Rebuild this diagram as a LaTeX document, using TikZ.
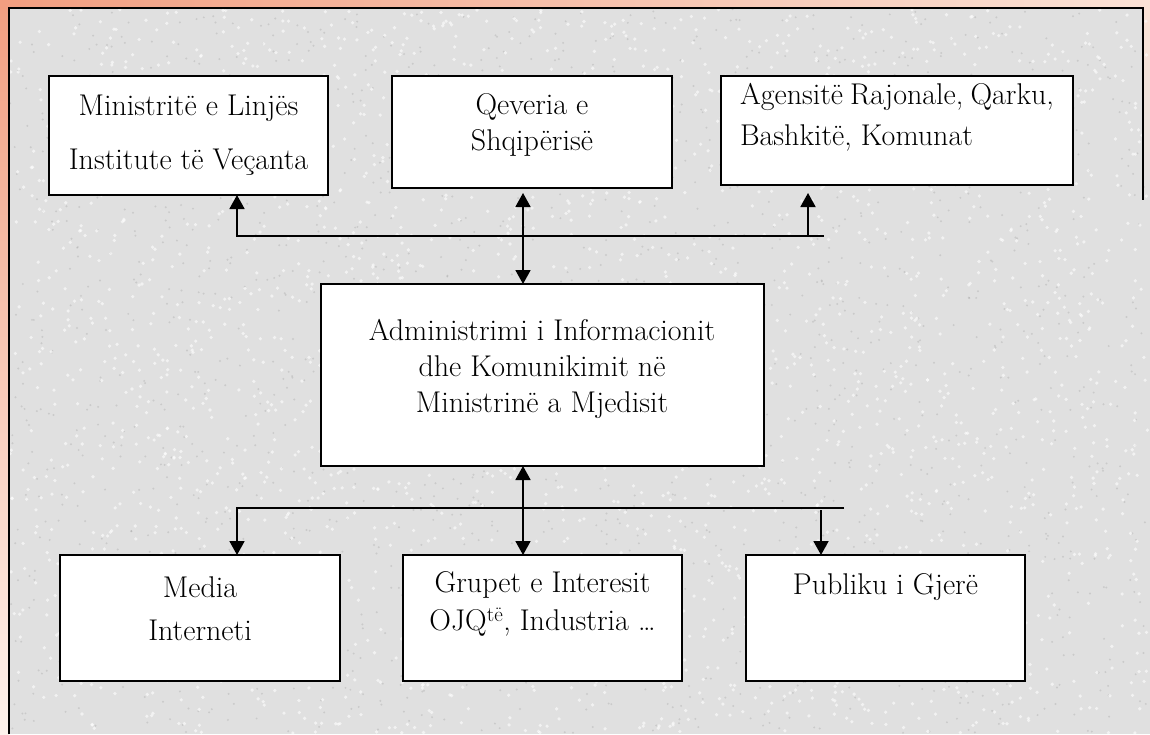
\documentclass[tikz,border=0pt]{standalone}
\usetikzlibrary{arrows.meta,calc}
\definecolor{bggray}{RGB}{224,224,224}
\definecolor{salmon}{RGB}{242,158,128}
\definecolor{peachlight}{RGB}{251,226,214}
\definecolor{peachpale}{RGB}{253,242,236}
\tikzset{
  boxnode/.style={draw=black, fill=white, line width=1.6pt, rectangle, inner sep=0pt, outer sep=0pt},
  txt/.style={font=\fontsize{30}{36}\selectfont, align=center, inner sep=0pt},
  conn/.style={line width=1.8pt, draw=black},
  arr/.style={conn, -{Triangle[length=14pt,width=15pt]}},
  darr/.style={conn, {Triangle[length=14pt,width=15pt]}-{Triangle[length=14pt,width=15pt]}},
  speckdark/.style={fill=gray!80, opacity=0.30},
  specklight/.style={fill=white, opacity=0.6}
}
\begin{document}
\begin{tikzpicture}[x=1pt,y=-1pt]
\useasboundingbox (0,0) rectangle (1150,734);
% frame and background
\shade[top color=salmon, bottom color=peachpale] (0,0) rectangle (9,734);
\shade[left color=salmon, right color=peachlight] (0,0) rectangle (1150,8);
\fill[bggray] (9,8) rectangle (1150,734);
\shade[top color=peachlight, bottom color=bggray] (1143,8) rectangle (1150,200);
% texture
\pgfmathsetseed{7}
\foreach \i in {1,...,1800}{
  \pgfmathsetmacro\xx{10+rnd*1138}
  \pgfmathsetmacro\yy{9+rnd*724}
  \fill[speckdark] (\xx,\yy) circle (1.1pt);
}
\foreach \i in {1,...,2600}{
  \pgfmathsetmacro\xx{10+rnd*1138}
  \pgfmathsetmacro\yy{9+rnd*724}
  \fill[specklight] (\xx,\yy) circle (1.8pt);
}
\draw[black, line width=1.6pt] (9,734) -- (9,8) -- (1143,8) -- (1143,200);

% boxes
\node[boxnode, minimum width=279pt, minimum height=119pt] (b1) at (188.5,135.5) {};
\node[boxnode, minimum width=280pt, minimum height=112pt] (b2) at (532,132) {};
\node[boxnode, minimum width=352pt, minimum height=109pt] (b3) at (897,130.5) {};
\node[boxnode, minimum width=443pt, minimum height=182pt] (cb) at (542.5,375) {};
\node[boxnode, minimum width=280pt, minimum height=126pt] (m) at (200,618) {};
\node[boxnode, minimum width=279pt, minimum height=126pt] (g) at (542.5,618) {};
\node[boxnode, minimum width=279pt, minimum height=126pt] (p) at (885.5,618) {};

% texts
\node[txt] (t1) at (188.5,135) {Ministritë e Linjës\\[18pt]Institute të Veçanta};
\node[txt] (t2) at (532,125) {Qeveria e\\Shqipërisë};
\node[txt, font=\fontsize{30}{41}\selectfont, text width=314pt, align=justify] (t3) at (897,117.5)
  {Agensitë Rajonale, Qarku,\linebreak Bashkitë, Komunat};
\node[txt] (tc) at (542,368.5) {Administrimi i Informacionit\\dhe Komunikimit në\\Ministrinë a Mjedisit};
\node[txt] (tm) at (200,608.5) {Media\\[7pt]Interneti};
\node[txt] (tg) at (542.5,604) {Grupet e Interesit\\[2pt]OJQ\textsuperscript{të}, Industria \ldots};
\node[txt] (tp) at (885.5,587) {Publiku i Gjerë};

% upper connectors
\coordinate (tbL) at (237,236);
\coordinate (tbR) at (824,236);
\draw[arr] (tbR) -- (tbL) -- (tbL |- b1.south);
\coordinate (t3s) at (808,236);
\coordinate (t3tip) at (808,193);
\draw[arr] (t3s) -- (t3tip);
\coordinate (c2tip) at (523,193);
\draw[darr] (c2tip) -- (c2tip |- cb.north);

% lower connectors
\coordinate (lx) at (523,500);
\draw[darr] (lx |- cb.south) -- (lx |- g.north);
\coordinate (lbL) at (237,508);
\coordinate (lbR) at (844,508);
\draw[arr] (lbR) -- (lbL) -- (lbL |- m.north);
\coordinate (pst) at (821,510);
\draw[arr] (pst) -- (pst |- p.north);
\end{tikzpicture}
\end{document}
